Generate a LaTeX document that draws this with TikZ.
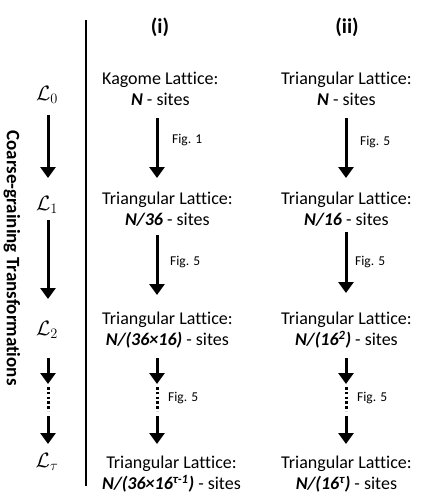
\documentclass[tikz,border=0pt]{standalone}
\usepackage{fontspec}
\setmainfont{Carlito}[Ligatures=NoCommon]
\usetikzlibrary{arrows.meta}
\newcommand{\bfit}[1]{\textbf{\textit{#1}}}
\tikzset{
  lattice/.style={anchor=west, align=center, inner sep=0pt,
    font=\fontsize{18}{21}\selectfont},
  figlabel/.style={anchor=west, inner sep=0pt, font=\fontsize{13.5}{15}\selectfont},
  header/.style={font=\bfseries\fontsize{21}{21}\selectfont, inner sep=0pt},
  levelname/.style={font=\fontsize{21}{21}\selectfont, inner sep=0pt},
  flow/.style={line width=3pt, -{Triangle[width=15pt,length=11pt]}},
  dotted gap/.style={line width=3pt, dash pattern=on 2.6pt off 2.2pt},
}

\begin{document}
\begin{tikzpicture}[x=1pt,y=-1pt]
    \useasboundingbox (0,0) rectangle (436,499);

    % Levels of the hierarchy
    \node[levelname] (L0) at (47,95)  {$\mathcal{L}_0$};
    \node[levelname] (L1) at (47,205) {$\mathcal{L}_1$};
    \node[levelname] (L2) at (47,330) {$\mathcal{L}_2$};
    \node[levelname] (Lt) at (47,462) {$\mathcal{L}_\tau$};
    \node[rotate=-90, inner sep=0pt, font=\bfseries\fontsize{19}{19}\selectfont]
        (side) at (12,258) {Coarse-graining Transformations};

    % Divider
    \coordinate (divtop) at (86,20);
    \coordinate (divbot) at (86,486);
    \draw[line width=2pt] (divtop) -- (divbot);

    % Column (i)
    \node[header] (hi) at (160,27) {(i)};
    \node[lattice] (a0) at (102,89)  {Kagome Lattice:\\\bfit{N} - sites};
    \node[lattice] (a1) at (102,209) {Triangular Lattice:\\\bfit{N/36} - sites};
    \node[lattice] (a2) at (102,330) {Triangular Lattice:\\\bfit{N/(36×16)} - sites};
    \node[lattice] (a3) at (102,474) {Triangular Lattice:\\\bfit{N/(36×16\textsuperscript{τ-1})} - sites};

    % Column (ii)
    \node[header] (hii) at (347,27) {(ii)};
    \node[lattice] (b0) at (281,89)  {Triangular Lattice:\\\bfit{N} - sites};
    \node[lattice] (b1) at (281,209) {Triangular Lattice:\\\bfit{N/16} - sites};
    \node[lattice] (b2) at (281,330) {Triangular Lattice:\\\bfit{N/(16\textsuperscript{2})} - sites};
    \node[lattice] (b3) at (281,474) {Triangular Lattice:\\\bfit{N/(16\textsuperscript{τ})} - sites};

    % Arrows: column / x / ends of the first two steps
    \foreach \col/\x/\ya/\yb/\yc/\yd in {s/48/115/178/220/299,
                                         a/157/118/178/235/295,
                                         b/346/118/178/232/293} {
        \coordinate (\col-1s) at (\x,\ya);
        \coordinate (\col-1e) at (\x,\yb);
        \coordinate (\col-2s) at (\x,\yc);
        \coordinate (\col-2e) at (\x,\yd);
        \coordinate (\col-3s) at (\x,358);
        \coordinate (\col-3e) at (\x,384);
        \coordinate (\col-4s) at (\x,387);
        \coordinate (\col-4e) at (\x,411);
        \coordinate (\col-5s) at (\x,416);
        \coordinate (\col-5e) at (\x,444);
        \draw[flow] (\col-1s) -- (\col-1e);
        \draw[flow] (\col-2s) -- (\col-2e);
        \draw[flow] (\col-3s) -- (\col-3e);
        \draw[dotted gap] (\col-4s) -- (\col-4e);
        \draw[flow] (\col-5s) -- (\col-5e);
    }

    % Figure references
    \node[figlabel] (fa1) at (172,140) {Fig. 1};
    \node[figlabel] (fa2) at (170,262) {Fig. 5};
    \node[figlabel] (fa3) at (168,398) {Fig. 5};
    \node[figlabel] (fb1) at (360,142) {Fig. 5};
    \node[figlabel] (fb2) at (355,262) {Fig. 5};
    \node[figlabel] (fb3) at (357,398) {Fig. 5};
\end{tikzpicture}
\end{document}
